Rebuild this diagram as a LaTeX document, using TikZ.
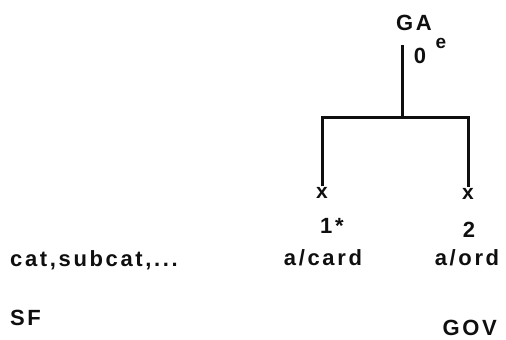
\documentclass[tikz,border=0pt]{standalone}
\usepackage{fontspec}
\setmainfont{Liberation Sans}
\newfontfamily\spacedfont{Liberation Sans}[LetterSpace=12]
\usetikzlibrary{positioning}
\definecolor{inkcolor}{RGB}{15,15,15}

\begin{document}
\begin{tikzpicture}[
    x=1pt, y=-1pt,
    % text styles
    textlabel/.style={font=\spacedfont\bfseries\fontsize{22}{26}\selectfont, text=inkcolor, inner sep=0pt},
    indexlabel/.style={font=\bfseries\fontsize{19}{22}\selectfont, text=inkcolor, inner sep=0pt},
    leafmark/.style={font=\bfseries\fontsize{21}{24}\selectfont, text=inkcolor, inner sep=1pt},
    % tree lines
    branch/.style={line width=3pt, draw=inkcolor},
]
\useasboundingbox (0,0) rectangle (506,340);

% ============================================================================
% ROOT
% ============================================================================
\node[textlabel, anchor=base] (ga) at (414,30) {GA};
\node[indexlabel, anchor=base] (ga-e) at (441,48) {e};
\node[textlabel, anchor=base] (ga-zero) at (420,63) {0};
\coordinate (roottop) at (402,45);
\coordinate (split) at (402,117);

% ============================================================================
% LEAVES
% ============================================================================
\node[leafmark] (leftx) at (322,193) {x};
\node[leafmark] (rightx) at (468,194) {x};

\node[textlabel, anchor=base west] (one) at (320,233) {1*};
\node[textlabel, anchor=base] (two) at (469,237) {2};

\node[textlabel, anchor=base] (card) at (323,265) {a/card};
\node[textlabel, anchor=base] (ord) at (467,265) {a/ord};

% ============================================================================
% ROW LABELS
% ============================================================================
\node[textlabel, anchor=base west] (cats) at (10,266) {cat,subcat,...};
\node[textlabel, anchor=base west] (sf) at (10,325) {SF};
\node[textlabel, anchor=base east] (gov) at (497,335) {GOV};

% ============================================================================
% BRANCHES
% ============================================================================
\draw[branch] (roottop) -- (split);
\draw[branch] (leftx.north) |- (split) -| (rightx.north);

\end{tikzpicture}
\end{document}
